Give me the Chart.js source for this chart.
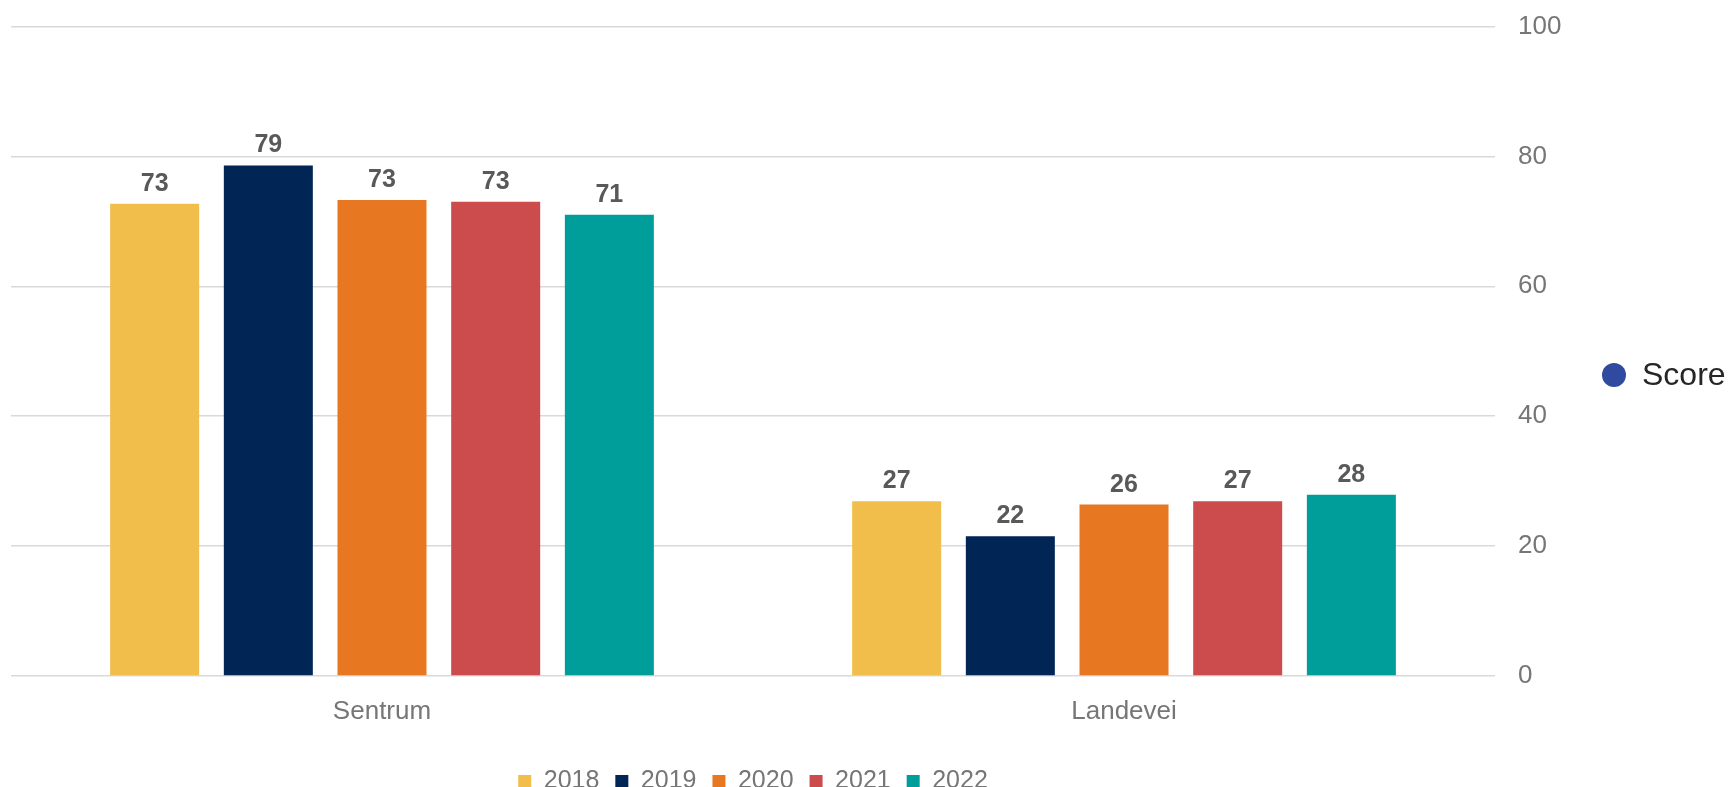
<!DOCTYPE html>
<html>
<head>
<meta charset="utf-8">
<script src="https://cdn.jsdelivr.net/npm/chart.js@4"></script>
<style>
  body { margin: 0; background: #fff; }
  .wrap { position: relative; width: 1729px; height: 787px; }
  .score { position: absolute; left: 1602px; top: 356px; font: 32px "Liberation Sans", Arial, sans-serif; color: #262626; white-space: nowrap; }
  .score i { display: inline-block; width: 24px; height: 24px; border-radius: 50%; background: #2f4a9f; margin-right: 16px; vertical-align: -2px; }
</style>
</head>
<body>
<div class="wrap">
  <canvas id="chart" width="1729" height="787"></canvas>
  <div class="score"><i></i>Score</div>
</div>
<script>
const categories = ['Sentrum', 'Landevei'];
const years = ['2018', '2019', '2020', '2021', '2022'];
const values2018 = [72.7, 26.9];
const values2019 = [78.6, 21.5];
const values2020 = [73.3, 26.4];
const values2021 = [73.0, 26.9];
const values2022 = [71.0, 27.9];
const yTicks = [0, 20, 40, 60, 80, 100];
const colors = ['#f1be4b', '#012555', '#e87722', '#cc4b4c', '#009e9b'];

const series = [values2018, values2019, values2020, values2021, values2022];
const font = '"Liberation Sans", Arial, sans-serif';

// labels above each bar
const barLabels = {
  id: 'barLabels',
  afterDatasetsDraw(chart) {
    const ctx = chart.ctx;
    ctx.save();
    ctx.font = 'bold 25px ' + font;
    ctx.fillStyle = '#595959';
    ctx.textAlign = 'center';
    ctx.textBaseline = 'alphabetic';
    chart.data.datasets.forEach((ds, i) => {
      chart.getDatasetMeta(i).data.forEach((bar, j) => {
        ctx.fillText(Math.round(ds.data[j]), bar.x, bar.y - 13);
      });
    });
    ctx.restore();
  }
};

new Chart(document.getElementById('chart'), {
  type: 'bar',
  data: {
    labels: categories,
    datasets: years.map((y, i) => ({
      label: y,
      data: series[i],
      backgroundColor: colors[i],
      barPercentage: 0.783,
      categoryPercentage: 0.766
    }))
  },
  options: {
    responsive: false,
    animation: false,
    layout: { padding: { left: 11, right: 144.6, top: 26.5, bottom: -17 } },
    plugins: {
      tooltip: { enabled: false },
      legend: {
        position: 'bottom',
        fullSize: false,
        labels: {
          boxWidth: 13,
          boxHeight: 13,
          padding: 16,
          color: '#767676',
          font: { family: font, size: 25 }
        }
      }
    },
    scales: {
      x: {
        grid: { display: false },
        border: { display: false },
        ticks: { color: '#767676', padding: 12, font: { family: font, size: 26 } },
        afterFit(scale) { scale.height += 13.8; }
      },
      y: {
        position: 'right',
        min: 0,
        max: 100,
        afterBuildTicks(scale) { scale.ticks = yTicks.map(v => ({ value: v })); },
        afterFit(scale) { scale.paddingTop = 0; scale.paddingBottom = 0; },
        grid: { color: '#d9d9d9', lineWidth: 1.5, drawTicks: false },
        border: { display: false },
        ticks: { color: '#767676', padding: 23, font: { family: font, size: 26 } }
      }
    }
  },
  plugins: [barLabels]
});
</script>
</body>
</html>
